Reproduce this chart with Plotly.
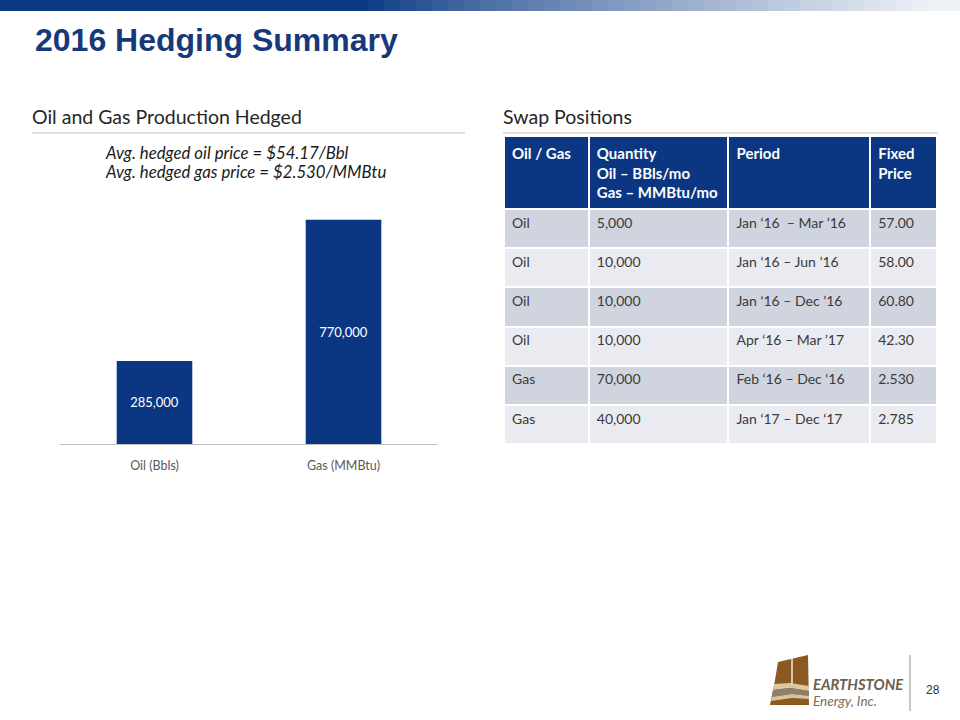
import plotly.graph_objects as go

# ---------------- data ----------------
bar_categories = ["Oil (Bbls)", "Gas (MMBtu)"]
bar_values = [285000, 770000]
bar_labels = ["285,000", "770,000"]

table_header = ["Oil / Gas", "Quantity<br>Oil – BBls/mo<br>Gas – MMBtu/mo", "Period", "Fixed<br>Price"]
col_commodity = ["Oil", "Oil", "Oil", "Oil", "Gas", "Gas"]
col_quantity = ["5,000", "10,000", "10,000", "10,000", "70,000", "40,000"]
col_period = ["Jan ‘16  – Mar ’16", "Jan ‘16 – Jun ’16", "Jan ‘16 – Dec ’16",
              "Apr ‘16 – Mar ’17", "Feb ‘16 – Dec ‘16", "Jan ‘17 – Dec ‘17"]
col_price = ["57.00", "58.00", "60.80", "42.30", "2.530", "2.785"]

W, H = 960, 720
NAVY = "#0b3782"
BODY = "Lato, 'Open Sans', sans-serif"

def px_x(x):
    return x / W

def px_y(y):
    return 1 - y / H

fig = go.Figure()

# ---------------- bar chart ----------------
fig.add_trace(go.Bar(
    x=bar_categories, y=bar_values, text=bar_labels,
    textposition="inside", insidetextanchor="middle",
    textfont=dict(family=BODY, size=13, color="white"),
    marker=dict(color=NAVY, line=dict(width=0)),
    width=0.4, hoverinfo="skip", showlegend=False,
    xaxis="x", yaxis="y",
))

# ---------------- table ----------------
n = len(col_commodity)
row_fill = ["#cfd4df" if i % 2 == 0 else "#e9ebf0" for i in range(n)]
fig.add_trace(go.Table(
    domain=dict(x=[px_x(504), px_x(938)], y=[px_y(445), px_y(136)]),
    columnwidth=[85, 140, 142, 67],
    header=dict(
        values=[f"<b>{h}</b>" for h in table_header],
        fill_color=NAVY,
        line=dict(color="white", width=2),
        align="left",
        font=dict(family=BODY, size=15, color="white"),
        height=64,
    ),
    cells=dict(
        values=[col_commodity, col_quantity, col_period, col_price],
        fill_color=[row_fill] * 4,
        line=dict(color="white", width=2),
        align="left",
        font=dict(family=BODY, size=14, color="#3a3a3a"),
        height=39.2,
    ),
))

# ---------------- layout ----------------
shapes = []
# top gradient band
start = (11, 58, 133)
end = (255, 255, 255)
segs = 60
x0, x1 = 0, 960
for i in range(segs):
    xa = x0 + (x1 - x0) * i / segs
    xb = x0 + (x1 - x0) * (i + 1) / segs + 0.5
    xm = (xa + xb) / 2
    if xm < 370:
        t = 0.0
    else:
        t = min(1.0, (xm - 370) / 560)
    t = t ** 0.8
    c = tuple(int(round(start[k] + (end[k] - start[k]) * t * 0.93)) for k in range(3))
    shapes.append(dict(type="rect", xref="paper", yref="paper",
                       x0=px_x(xa), x1=px_x(xb), y0=px_y(11), y1=1,
                       fillcolor=f"rgb{c}", line=dict(width=0), layer="below"))

# section underlines
shapes.append(dict(type="line", xref="paper", yref="paper",
                   x0=px_x(32), x1=px_x(465), y0=px_y(133), y1=px_y(133),
                   line=dict(color="#bfbfbf", width=1)))
shapes.append(dict(type="line", xref="paper", yref="paper",
                   x0=px_x(503), x1=px_x(938), y0=px_y(133), y1=px_y(133),
                   line=dict(color="#bfbfbf", width=1)))
# logo separator
shapes.append(dict(type="line", xref="paper", yref="paper",
                   x0=px_x(910), x1=px_x(910), y0=px_y(655), y1=px_y(711),
                   line=dict(color="#c8c8c8", width=2)))

# logo mark (decorative)
def path(pts):
    s = "M " + " L ".join(f"{px_x(x)},{px_y(y)}" for x, y in pts) + " Z"
    return s

logo_parts = [
    ([(778, 662), (808, 655), (809, 705), (770, 705), (775, 680)], "#8a5a22"),
    ([(774, 684), (790, 683), (809, 686), (809, 691), (790, 688), (773, 690)], "#dcc79e"),
    ([(773, 690), (790, 688), (809, 691), (809, 696), (792, 694), (772, 697)], "#8c7e70"),
    ([(772, 697), (792, 694), (809, 696), (809, 699), (792, 698), (771, 701)], "#d7c39c"),
]
for pts, col in logo_parts:
    shapes.append(dict(type="path", xref="paper", yref="paper", path=path(pts),
                       fillcolor=col, line=dict(width=0)))
shapes.append(dict(type="line", xref="paper", yref="paper",
                   x0=px_x(792), x1=px_x(792), y0=px_y(658), y1=px_y(684),
                   line=dict(color="#f3ead8", width=1.5)))

def note(text, x, y, size, color, family=BODY):
    return dict(text=text, x=px_x(x), y=px_y(y), xref="paper", yref="paper",
                xanchor="left", yanchor="middle", showarrow=False,
                font=dict(family=family, size=size, color=color))

ARIAL = "Arial, 'Liberation Sans', sans-serif"
annotations = [
    note("<b>2016 Hedging Summary</b>", 33, 40, 32, "#17397a", ARIAL),
    note("Oil and Gas Production Hedged", 30, 117, 19.5, "#262626"),
    note("Swap Positions", 501, 117, 19.5, "#262626"),
    note("<i>Avg. hedged oil price = $54.17/Bbl</i>", 103, 152, 16.8, "#1a1a1a"),
    note("<i>Avg. hedged gas price = $2.530/MMBtu</i>", 103, 171, 16.8, "#1a1a1a"),
    note("<b><i>EARTHSTONE</i></b>", 811, 684, 14.8, "#6b5e50"),
    note("<i>Energy, Inc.</i>", 811, 701, 13.5, "#7d6b58"),
    note("28", 924, 690, 12, "#333333", ARIAL),
]

fig.update_layout(
    width=W, height=H,
    margin=dict(l=0, r=0, t=0, b=0),
    paper_bgcolor="white", plot_bgcolor="white",
    showlegend=False,
    xaxis=dict(domain=[px_x(60), px_x(438)], range=[-0.5, 1.5],
               showgrid=False, zeroline=False, showline=True,
               linecolor="#bfbfbf", linewidth=1, ticks="",
               ticklabelstandoff=10,
               tickfont=dict(family=BODY, size=12.5, color="#595959"),
               fixedrange=True),
    yaxis=dict(domain=[px_y(444), px_y(211)], range=[0, 800000],
               visible=False, fixedrange=True),
    shapes=shapes,
    annotations=annotations,
)

fig.write_html("out.html", config=dict(displayModeBar=False),
               post_script="document.body.style.margin='0';document.body.style.overflow='hidden';")
